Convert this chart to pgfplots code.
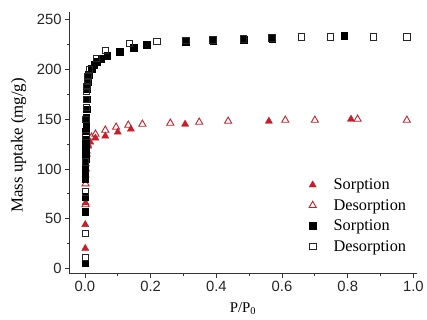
\documentclass[border=0pt]{standalone}
\usepackage{pgfplots}
\pgfplotsset{compat=1.18}
\usepackage{fontspec}
\setmainfont{Liberation Serif}
\newfontfamily\arial{Liberation Sans}
\definecolor{myred}{RGB}{200,30,40}
\pgfplotsset{myleg/.style={legend image code/.code={\path (0pt,-4pt) (19pt,4pt); \draw[##1] plot coordinates {(0pt,0pt)};}}}
\begin{document}
\begin{tikzpicture}
\begin{axis}[
  scale only axis, width=352pt, height=265pt,
  xmin=-0.048, xmax=1.0105, ymin=-5.3, ymax=258,
  axis lines*=left,
  axis line style={-, line width=1pt, black!80},
  tick align=outside,
  major tick length=4pt, minor tick length=2.5pt,
  tick style={line width=0.8pt, black!80},
  xtick={0,0.2,0.4,0.6,0.8,1.0}, minor xtick={0.1,0.3,0.5,0.7,0.9},
  ytick={0,50,100,150,200,250}, minor ytick={25,75,125,175,225},
  /pgf/number format/assume math mode=true,
  xticklabel style={/pgf/number format/.cd, fixed, fixed zerofill, precision=1},
  yticklabel style={/pgf/number format/.cd, fixed, precision=0},
  ticklabel style={font=\arial\fontsize{15}{15}\selectfont, text=black!85},
  xlabel={P/P\textsubscript{0}},
  ylabel={Mass uptake (mg/g)},
  every axis x label/.style={at={(rel axis cs:0.5,0)}, anchor=north, yshift=-29pt, inner sep=0pt, font=\fontsize{15}{15}\selectfont},
  every axis y label/.style={at={(rel axis cs:0,0.49)}, xshift=-59pt, rotate=90, anchor=north, inner sep=0pt, font=\fontsize{17}{17}\selectfont},
  legend style={draw=none, fill=none, at={(0.681,0.378)}, anchor=north west,
    font=\fontsize{16.5}{16.5}\selectfont, row sep=4.3pt},
  legend cell align=left,
  clip=false,
]
\path (rel axis cs:0,0) ++(-70pt,-46pt);
\path (rel axis cs:1,1) ++(5pt,12pt);
\addplot[only marks, myleg, mark=triangle*, mark size=4.2pt, color=myred, mark options={fill=myred}] coordinates {
(0.001,20)(0.001,44)(0.002,66)(0.002,94)(0.003,105)(0.004,112)(0.006,118)(0.01,123)(0.016,127)(0.032,131)(0.062,133)(0.1,137)(0.14,140)(0.305,145)(0.56,148)(0.81,150)
};
\addlegendentry{Sorption}
\addplot[only marks, myleg, mark=triangle, mark size=4.2pt, color=myred, mark options={line width=0.9pt}] coordinates {
(0.002,64)(0.002,85)(0.003,100)(0.005,115)(0.008,125)(0.02,132)(0.032,135)(0.062,139)(0.095,142)(0.132,144)(0.175,145)(0.26,146)(0.348,147)(0.436,148)(0.61,149)(0.70,149)(0.83,150)(0.98,149)
};
\addlegendentry{Desorption}
\addplot[only marks, myleg, mark=square*, mark size=3.3pt, color=black, mark options={fill=black}] coordinates {
(0.0005,5)(0.001,57)(0.001,72)(0.001,90)(0.001,95)(0.001,100)(0.0015,105)(0.002,110)(0.002,115)(0.002,120)(0.002,125)(0.003,130)(0.003,138)(0.004,145)(0.004,152)(0.005,160)(0.006,170)(0.007,180)(0.009,188)(0.012,195)(0.02,201)(0.028,205)(0.037,208)(0.05,211)(0.068,214)(0.106,218)(0.148,222)(0.188,225)(0.307,228)(0.39,229)(0.483,230)(0.57,231)(0.79,234)
};
\addlegendentry{Sorption}
\addplot[only marks, myleg, mark=square, mark size=3.3pt, color=black!85, mark options={line width=0.9pt}] coordinates {
(0.001,11)(0.001,35)(0.001,77)(0.002,107)(0.003,133)(0.003,150)(0.004,162)(0.004,170)(0.005,178)(0.006,183)(0.008,188)(0.01,193)(0.014,200)(0.035,211)(0.062,219)(0.135,226)(0.22,228)(0.307,229)(0.39,230)(0.483,231)(0.57,232)(0.659,233)(0.748,233)(0.878,233)(0.98,233)
};
\addlegendentry{Desorption}
\end{axis}
\end{tikzpicture}
\end{document}
